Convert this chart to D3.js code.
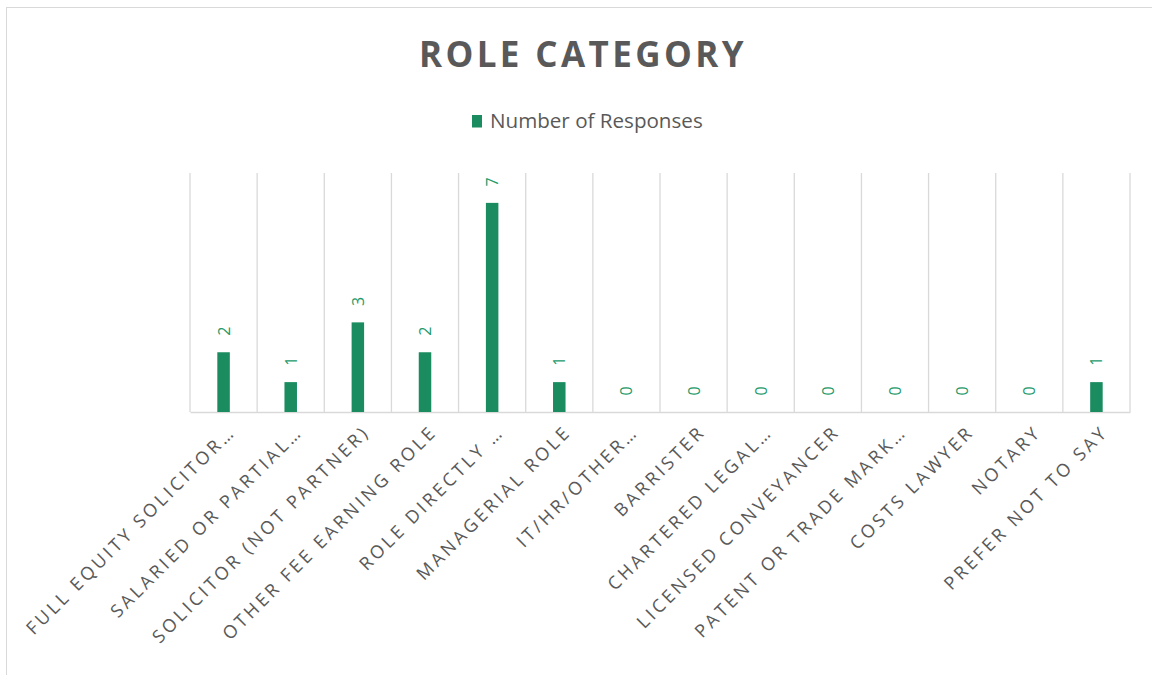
<!DOCTYPE html>
<html><head><meta charset="utf-8">
<script src="https://cdn.jsdelivr.net/npm/d3@7"></script>
<style>body{margin:0;background:#fff}svg{display:block}</style>
</head><body>
<svg id="c" width="1152" height="675"></svg>
<script>
const categories = ["FULL EQUITY SOLICITOR…","SALARIED OR PARTIAL…","SOLICITOR (NOT PARTNER)","OTHER FEE EARNING ROLE","ROLE DIRECTLY …","MANAGERIAL ROLE","IT/HR/OTHER…","BARRISTER","CHARTERED LEGAL…","LICENSED CONVEYANCER","PATENT OR TRADE MARK…","COSTS LAWYER","NOTARY","PREFER NOT TO SAY"];
const values = [2,1,3,2,7,1,0,0,0,0,0,0,0,1];
const seriesName = "Number of Responses";
const title = "ROLE CATEGORY";

const svg = d3.select("#c");
const font = "'Open Sans', sans-serif";
const green = "#1a8c60";
const gray = "#595959";
const grid = "#d9d9d9";

svg.append("rect").attr("x",6.5).attr("y",7.5).attr("width",1200).attr("height",700)
  .attr("fill","#fff").attr("stroke",grid).attr("stroke-width",1);

const m = {left:190, right:1130, top:173, bottom:412};
const x = d3.scaleBand().domain(categories).range([m.left,m.right]);
const y = d3.scaleLinear().domain([0,8]).range([m.bottom,m.top]);

// vertical gridlines at category boundaries
const bounds = categories.map(c=>x(c)).concat([m.right]);
svg.append("g").selectAll("line").data(bounds).join("line")
  .attr("x1",d=>d).attr("x2",d=>d).attr("y1",m.top).attr("y2",m.bottom)
  .attr("stroke",grid).attr("stroke-width",1.3);

// baseline axis
const xAxis = d3.axisBottom(x).tickSize(0).tickFormat("");
const ax = svg.append("g").attr("transform",`translate(0,${m.bottom})`).call(xAxis);
ax.select(".domain").attr("stroke",grid).attr("stroke-width",1.3);

// bars
const bw = 12.5;
svg.append("g").selectAll("rect").data(values).join("rect")
  .attr("x",(d,i)=>x(categories[i])+x.bandwidth()/2-bw/2)
  .attr("width",bw)
  .attr("y",d=>y(d)).attr("height",d=>y(0)-y(d))
  .attr("fill",green);

// data labels, rotated
svg.append("g").selectAll("text").data(values).join("text")
  .attr("transform",(d,i)=>`translate(${x(categories[i])+x.bandwidth()/2+6},${y(d)-21}) rotate(-90)`)
  .attr("text-anchor","middle")
  .attr("font-family",font).attr("font-size",16).attr("fill","#239a6a")
  .text(d=>d);

// category labels
svg.append("g").selectAll("text").data(categories).join("text")
  .attr("transform",d=>`translate(${x(d)+x.bandwidth()/2+13},${m.bottom+21}) rotate(-45)`)
  .attr("text-anchor","end")
  .attr("font-family",font).attr("font-size",18).attr("letter-spacing","3.2px")
  .attr("fill",gray)
  .text(d=>d);

// title
svg.append("text").attr("x",583).attr("y",67).attr("text-anchor","middle")
  .attr("font-family",font).attr("font-weight","bold").attr("font-size",35)
  .attr("letter-spacing","3.4px").attr("fill",gray).text(title);

// legend
svg.append("rect").attr("x",472).attr("y",115).attr("width",10).attr("height",12.5).attr("fill",green);
svg.append("text").attr("x",490).attr("y",128).attr("font-family",font).attr("font-size",20.6)
  .attr("fill",gray).text(seriesName);
</script>
</body></html>
